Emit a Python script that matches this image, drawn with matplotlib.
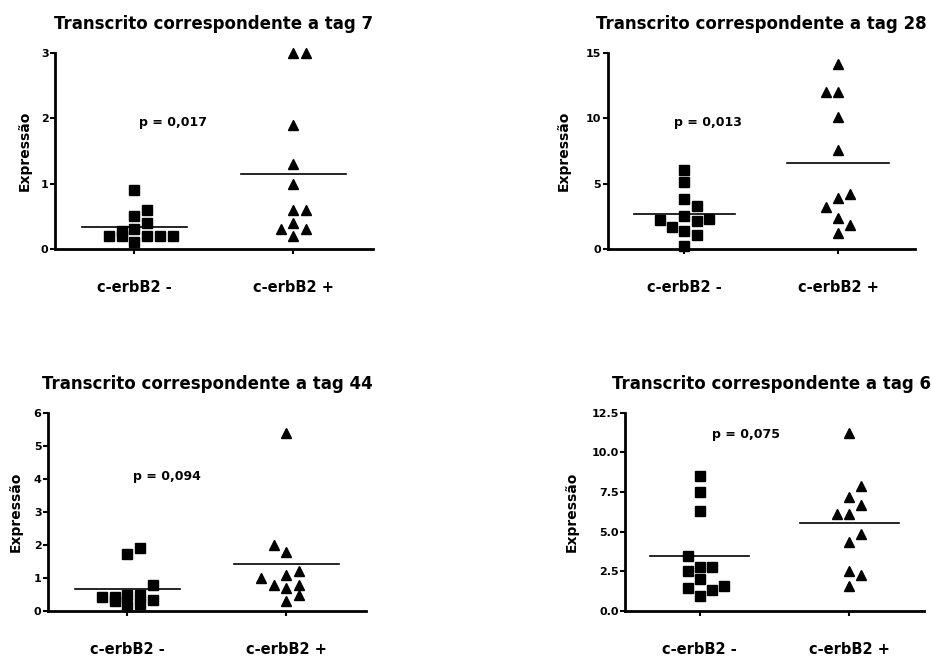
import numpy as np
import matplotlib
matplotlib.use("Agg")
import matplotlib.pyplot as plt

plt.rcParams['font.family'] = ['DejaVu Sans']
plt.rcParams['font.weight'] = 'bold'

# group labels
groups = ['c-erbB2 -', 'c-erbB2 +']

# tag 7
neg_tag7 = [0.9, 0.6, 0.5, 0.4, 0.3, 0.28, 0.2, 0.2, 0.2, 0.2, 0.2, 0.1]
neg_tag7_slot = [0, 1, 0, 1, 0, -1, -2, -1, 1, 2, 3, 0]
pos_tag7 = [3.0, 3.0, 1.9, 1.3, 1.0, 0.6, 0.6, 0.4, 0.3, 0.3, 0.2]
pos_tag7_slot = [0, 1, 0, 0, 0, 0, 1, 0, -1, 1, 0]

# tag 28
neg_tag28 = [6.0, 5.1, 3.8, 3.3, 2.5, 2.2, 1.7, 2.1, 2.3, 1.4, 1.1, 0.2]
neg_tag28_slot = [0, 0, 0, 1, 0, -2, -1, 1, 2, 0, 1, 0]
pos_tag28 = [14.1, 12.0, 12.0, 10.1, 7.6, 3.9, 4.2, 3.2, 2.4, 1.8, 1.2]
pos_tag28_slot = [0, -1, 0, 0, 0, 0, 1, -1, 0, 1, 0]

# tag 44
neg_tag44 = [1.9, 1.72, 0.8, 0.43, 0.43, 0.3, 0.5, 0.5, 0.15, 0.21, 0.33]
neg_tag44_slot = [1, 0, 2, -2, -1, -1, 0, 1, 0, 1, 2]
pos_tag44 = [5.4, 2.0, 1.8, 1.2, 1.1, 1.0, 0.8, 0.7, 0.8, 0.5, 0.3]
pos_tag44_slot = [0, -1, 0, 1, 0, -2, -1, 0, 1, 1, 0]

# tag 6
neg_tag6 = [8.5, 7.5, 6.3, 3.5, 2.5, 2.8, 2.8, 2.05, 1.45, 1.3, 1.6, 0.95]
neg_tag6_slot = [0, 0, 0, -1, -1, 0, 1, 0, -1, 1, 2, 0]
pos_tag6 = [11.25, 7.9, 7.2, 6.7, 6.1, 6.1, 4.85, 4.35, 2.5, 2.25, 1.6]
pos_tag6_slot = [0, 1, 0, 1, -1, 0, 1, 0, 0, 1, 0]

titles = ['Transcrito correspondente a tag 7', 'Transcrito correspondente a tag 28',
          'Transcrito correspondente a tag 44', 'Transcrito correspondente a tag 6']
p_values = ['p = 0,017', 'p = 0,013', 'p = 0,094', 'p = 0,075']
p_pos = [(1.24, 1.93), (1.15, 9.7), (1.25, 4.06), (1.31, 11.1)]

y_ticks = [[0, 1, 2, 3], [0, 5, 10, 15], [0, 1, 2, 3, 4, 5, 6],
           [0.0, 2.5, 5.0, 7.5, 10.0, 12.5]]
y_ticklabels = [['0', '1', '2', '3'], ['0', '5', '10', '15'],
                ['0', '1', '2', '3', '4', '5', '6'],
                ['0.0', '2.5', '5.0', '7.5', '10.0', '12.5']]

panels = [
	(neg_tag7, neg_tag7_slot, pos_tag7, pos_tag7_slot),
	(neg_tag28, neg_tag28_slot, pos_tag28, pos_tag28_slot),
	(neg_tag44, neg_tag44_slot, pos_tag44, pos_tag44_slot),
	(neg_tag6, neg_tag6_slot, pos_tag6, pos_tag6_slot),
]

# axes boxes (left, bottom, width, height) in figure fraction
boxes = [
	[0.0590, 0.6222, 0.3412, 0.2974],
	[0.6520, 0.6222, 0.3297, 0.2979],
	[0.0515, 0.0728, 0.3412, 0.3009],
	[0.6706, 0.0728, 0.3208, 0.3009],
]
ylabel_x = [-0.072, -0.119, -0.079, -0.154]
title_x = [0.5, 0.5, 0.5, 0.49]

step = 0.08
half = 0.33

fig = plt.figure(figsize=(9.32, 6.59), dpi=100)

for i in range(4):
	neg, neg_slot, pos, pos_slot = panels[i]
	ax = fig.add_axes(boxes[i])

	ax.plot(1 + step * np.array(neg_slot), neg, linestyle='none', marker='s',
	        markersize=6.6, color='black', clip_on=False)
	ax.plot(2 + step * np.array(pos_slot), pos, linestyle='none', marker='^',
	        markersize=7.3, color='black', clip_on=False)

	ax.plot([1 - half, 1 + half], [np.mean(neg), np.mean(neg)], color='black', linewidth=1.2)
	ax.plot([2 - half, 2 + half], [np.mean(pos), np.mean(pos)], color='black', linewidth=1.2)

	ax.set_xlim(0.5, 2.5)
	ax.set_ylim(0, y_ticks[i][-1])
	ax.set_xticks([1, 2])
	ax.set_xticklabels(groups, fontsize=10.5, fontweight='bold')
	ax.set_yticks(y_ticks[i])
	ax.set_yticklabels(y_ticklabels[i], fontsize=8, fontweight='bold')

	ax.spines['top'].set_visible(False)
	ax.spines['right'].set_visible(False)
	ax.spines['left'].set_linewidth(2)
	ax.spines['bottom'].set_linewidth(2)
	ax.tick_params(axis='x', length=3.6, width=1.5, pad=18.5)
	ax.tick_params(axis='y', length=3.6, width=1.5, pad=1)

	ax.set_ylabel('Expressão', fontsize=10, fontweight='bold')
	ax.yaxis.set_label_coords(ylabel_x[i], 0.5)

	ax.text(title_x[i], 1.122, titles[i], transform=ax.transAxes, ha='center', va='baseline',
	        fontsize=12, fontweight='bold')
	ax.text(p_pos[i][0], p_pos[i][1], p_values[i], ha='center', va='center',
	        fontsize=9, fontweight='bold')

plt.savefig('out.png', dpi=100)
